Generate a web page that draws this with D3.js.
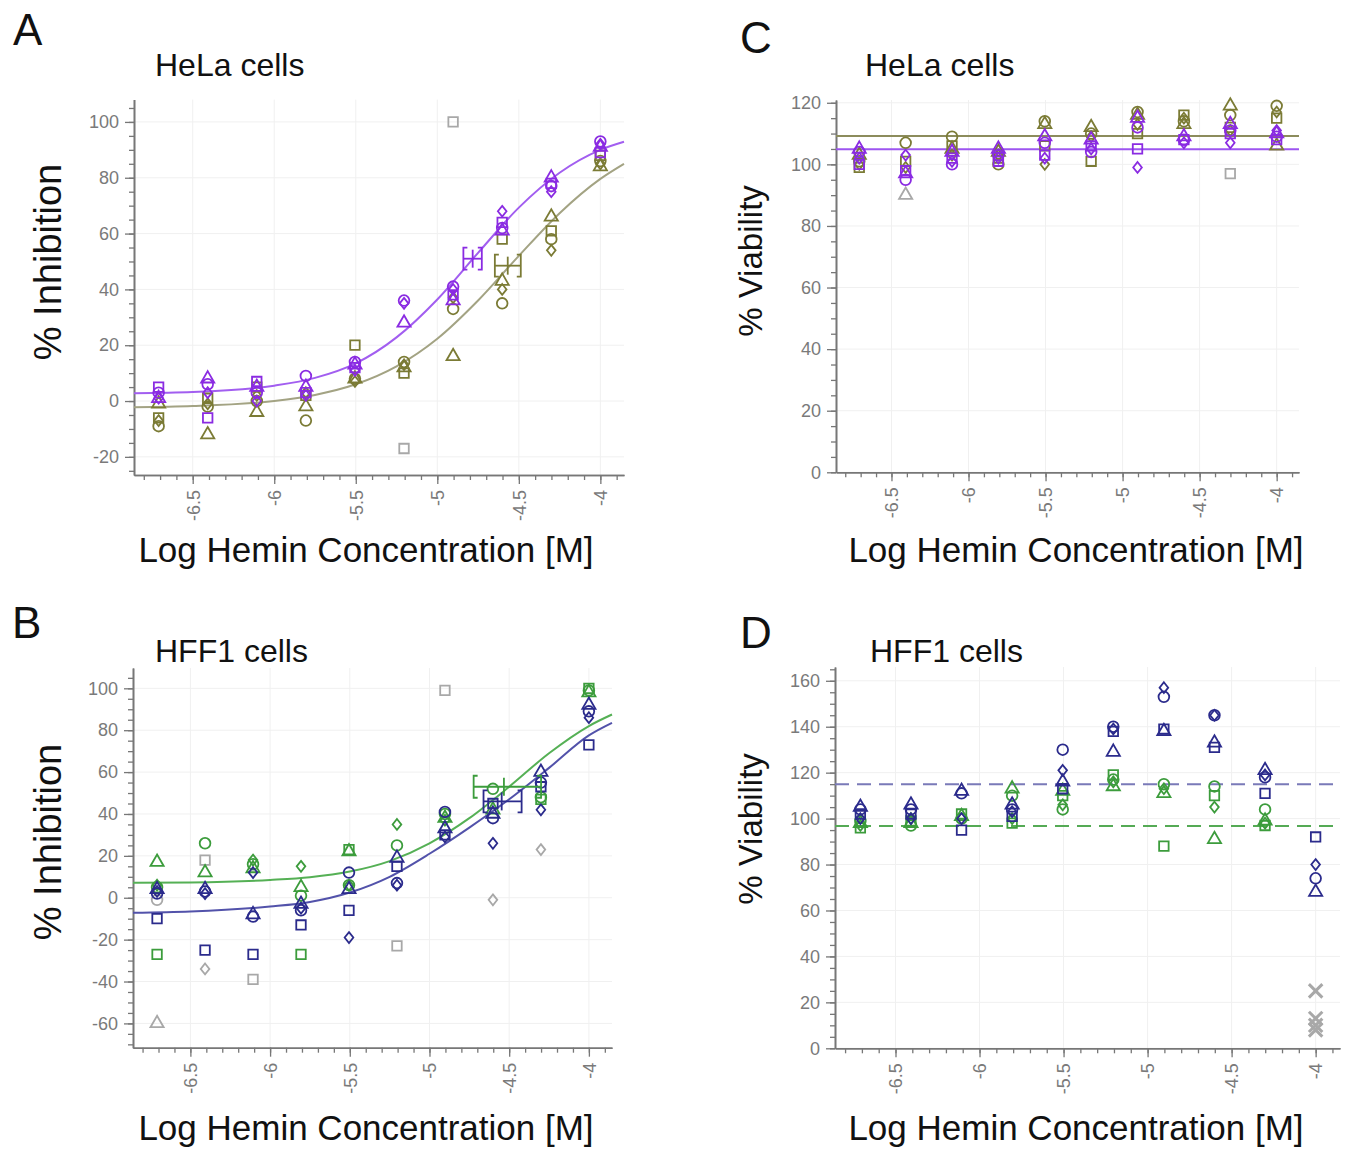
<!DOCTYPE html>
<html>
<head>
<meta charset="utf-8">
<script src="https://cdn.jsdelivr.net/npm/d3@7"></script>
<style>
	body { margin: 0; background: #fff; }
	text { font-family: "Liberation Sans", Arial, sans-serif; }
</style>
</head>
<body>
<svg id="svg" width="1350" height="1151"></svg>
<script>
// dilution series, log10 M (2-fold from 100 uM)
const logConc = [-6.709, -6.408, -6.107, -5.806, -5.505, -5.204, -4.903, -4.602, -4.301, -4.0];
const xTicks = [-6.5, -6, -5.5, -5, -4.5, -4];
const xTickLabels = ['-6.5', '-6', '-5.5', '-5', '-4.5', '-4'];
const shapes = ['circle', 'square', 'triangle', 'diamond'];

// each row = one concentration, columns = replicate markers (circle, square, triangle, diamond)
const helaInhPurple = [[3, 5, 1, 1], [6, -6, 8, 3], [3, 7, 5, 0], [9, 3, 5, 2], [14, 12, 13, 11],
	[36, null, 28, 35], [41, 38, 36, 40], [62, 64, 61, 68], [77, 78, 80, 75], [93, 89, 91, 92]];
const helaInhOlive = [[-9, -6, -1, -7], [-2, 1, -12, -1], [0, 5, -4, 2], [-7, 2, -2, 3], [8, 20, 8, 7],
	[14, 10, 12, 13], [33, null, 16, 37], [35, 58, 43, 40], [58, 61, 66, 54], [86, 88, 84, 85]];
// excluded points: [concentration index, value, shape]
const helaInhGray = [[5, -17, 'square'], [6, 100, 'square']];

const hffInhGreen = [[5, -27, 17, 6], [26, null, 12, null], [16, null, 14, 18], [1, -27, 5, 15], [6, 23, 22, 6],
	[25, null, null, 35], [40, null, 38, 37], [52, null, 42, null], [48, 47, null, null], [99, 100, 98, null]];
const hffInhNavy = [[2, -10, 4, 3], [3, -25, 4, 2], [-9, -27, -8, 12], [-6, -13, -3, -5], [12, -6, 4, -19],
	[7, 15, 19, 6], [41, 30, 33, 29], [38, 45, 40, 26], [55, 53, 60, 42], [89, 73, 92, 86]];
const hffInhGray = [[0, -1, 'circle'], [0, -60, 'triangle'], [1, 18, 'square'], [1, -34, 'diamond'],
	[2, -39, 'square'], [5, -23, 'square'], [6, 99, 'square'], [7, -1, 'diamond'], [8, 23, 'diamond']];

const helaViaPurple = [[104, 100, 105, 102], [95, 98, 97, 103], [100, 102, 104, 101], [103, 101, 105, 102],
	[107, 103, 109, 102], [104, 106, 108, 105], [112, 105, 115, 99], [108, 108, 109, 107], [111, 110, 113, 107],
	[109, 108, 110, 111]];
const helaViaOlive = [[101, 99, 103, 100], [107, 101, null, 99], [109, 106, 105, 103], [100, 102, 104, 103],
	[114, 106, 113, 100], [110, 101, 112, 109], [117, 110, 116, 113], [114, 116, 113, 115], [116, 112, 119, 111],
	[119, 115, 106, 117]];
const helaViaGray = [[1, 90, 'triangle'], [8, 97, 'square']];

const hffViaNavy = [[104, 102, 105, 100], [104, 102, 106, 100], [111, 95, 112, 100], [104, 101, 106, 103],
	[130, 113, 116, 121], [140, 138, 129, 139], [153, 139, 138, 157], [145, 131, 133, 145], [118, 111, 121, 119],
	[74, 92, 68, 80]];
const hffViaGreen = [[99, 96, 98, 97], [97, 99, 98, 100], [100, 102, 101, null], [110, 98, 113, 100],
	[104, 110, 112, 106], [117, 119, 114, 116], [115, 88, 111, 113], [114, 110, 91, 105], [104, 97, 99, 98],
	[null, null, null, null]];
const hffViaGray = [[9, 25, 'x'], [9, 13, 'x'], [9, 10, 'x'], [9, 8, 'x']];

// fitted dose-response curves
const curveX = [-6.86, -6.5, -6, -5.75, -5.5, -5.25, -5, -4.75, -4.5, -4.25, -4, -3.855];
const helaCurvePurple = [2.8, 3.2, 5.5, 8.3, 13.5, 22.8, 36.4, 53.1, 69.3, 81.8, 90, 92.9];
const helaCurveOlive = [-2.2, -1.8, 0, 2.2, 6, 12.4, 22.3, 36, 52, 67.3, 79.6, 85];
const hffCurveGreen = [7.1, 7.3, 8.5, 9.8, 12.5, 17.5, 26, 38, 53, 69, 82, 87.5];
const hffCurveNavy = [-7.2, -6.6, -4.2, -2, 2.5, 10, 21, 33.5, 47, 62, 77.5, 83.5];

// IC50 with confidence interval: [value, logIC50, low, high]
const helaIC50 = [[51, -4.783, -4.840, -4.727], [48.5, -4.568, -4.647, -4.488]];
const hffIC50 = [[53, -4.533, -4.723, -4.300], [46, -4.547, -4.661, -4.422]];

// mean viability lines
const helaViaMean = [109.2, 104.9];
const hffViaMean = [115, 96.8];

const svg = d3.select('#svg');
const xDomain = [-6.86, -3.855];
const minorX = d3.range(-68, -38).map((d) => d / 10);

const purple = '#8a2be2', purpleLine = '#a25ef0';
const olive = '#7b7b35', oliveLine = '#a3a383';
const green = '#3c9c3c', greenLine = '#55b055';
const navy = '#2b2b8c', navyLine = '#5252aa';
const gray = '#a8a8a8';

// squatter diamond than d3's default
const wideDiamond = {
	draw(context, size) {
		const h = Math.sqrt(size / 0.8) / 2 * 1.25;
		const w = h * 0.8;
		context.moveTo(0, -h);
		context.lineTo(w, 0);
		context.lineTo(0, h);
		context.lineTo(-w, 0);
		context.closePath();
	}
};

const symbolType = {
	circle: d3.symbolCircle,
	square: d3.symbolSquare,
	triangle: d3.symbolTriangle,
	diamond: wideDiamond,
	x: d3.symbolTimes
};
const symbolSize = { circle: 90, square: 90, triangle: 75, diamond: 60, x: 120 };

function drawPanel(p) {
	const x = d3.scaleLinear().domain(xDomain).range(p.xr);
	const y = d3.scaleLinear().domain(p.yd).range(p.yr);
	const g = svg.append('g');

	// faint grid
	g.selectAll('.vg').data(xTicks).enter().append('line')
		.attr('x1', (d) => x(d)).attr('x2', (d) => x(d))
		.attr('y1', p.yr[0]).attr('y2', p.yr[1])
		.attr('stroke', '#f0f0f0');
	g.selectAll('.hg').data(p.yTicks).enter().append('line')
		.attr('x1', p.xr[0]).attr('x2', p.xr[1])
		.attr('y1', (d) => y(d)).attr('y2', (d) => y(d))
		.attr('stroke', '#f0f0f0');

	// axes
	const yMinor = d3.range(Math.ceil(p.yd[0] / 5) * 5, p.yd[1], 5);
	g.append('g').attr('transform', `translate(0, ${p.yr[0]})`)
		.call(d3.axisBottom(x).tickValues(minorX).tickSize(5).tickSizeOuter(0).tickFormat(''));
	const xa = g.append('g').attr('transform', `translate(0, ${p.yr[0]})`)
		.call(d3.axisBottom(x).tickValues(xTicks).tickSize(9).tickSizeOuter(0)
			.tickFormat((d, i) => xTickLabels[i]));
	xa.selectAll('text')
		.attr('transform', 'rotate(-90)')
		.attr('text-anchor', 'end')
		.attr('x', -15).attr('y', 0).attr('dy', '0.35em');
	g.append('g').attr('transform', `translate(${p.xr[0]}, 0)`)
		.call(d3.axisLeft(y).tickValues(yMinor).tickSize(5).tickSizeOuter(0).tickFormat(''));
	g.append('g').attr('transform', `translate(${p.xr[0]}, 0)`)
		.call(d3.axisLeft(y).tickValues(p.yTicks).tickSize(9).tickSizeOuter(0).tickPadding(6)
			.tickFormat((d) => String(d)));
	g.selectAll('.domain').attr('stroke', '#777').attr('stroke-width', 1.6);
	g.selectAll('.tick line').attr('stroke', '#777').attr('stroke-width', 1.3);
	g.selectAll('.tick text').attr('fill', '#7a7a7a').style('font-size', '18px')
		.style('font-family', '"Liberation Sans", Arial, sans-serif');

	// mean lines (viability panels)
	(p.means || []).forEach((m) => {
		g.append('line')
			.attr('x1', p.xr[0]).attr('x2', p.xr[1])
			.attr('y1', y(m.v)).attr('y2', y(m.v))
			.attr('stroke', m.color).attr('stroke-width', 2)
			.attr('stroke-dasharray', m.dash || null);
	});

	// fitted curves
	const line = d3.line().x((d) => x(d[0])).y((d) => y(d[1])).curve(d3.curveMonotoneX);
	(p.curves || []).forEach((c) => {
		g.append('path')
			.datum(curveX.map((v, i) => [v, c.values[i]]))
			.attr('d', line)
			.attr('fill', 'none')
			.attr('stroke', c.color).attr('stroke-width', 2);
	});

	// points
	const pts = [];
	(p.gray || []).forEach((d) => pts.push({ cx: logConc[d[0]], v: d[1], shape: d[2], color: gray }));
	p.series.forEach((s) => {
		s.rows.forEach((row, i) => {
			row.forEach((v, j) => {
				if (v !== null) pts.push({ cx: logConc[i], v: v, shape: shapes[j], color: s.color });
			});
		});
	});
	g.selectAll('.pt').data(pts).enter().append('path')
		.attr('class', 'pt')
		.attr('transform', (d) => `translate(${x(d.cx)}, ${y(d.v)})`)
		.attr('d', (d) => d3.symbol().type(symbolType[d.shape]).size(symbolSize[d.shape])())
		.attr('fill', 'none')
		.attr('stroke', (d) => d.color)
		.attr('stroke-width', (d) => (d.shape === 'x' ? 3 : 1.8));

	// IC50 bars
	(p.ic50 || []).forEach((e) => {
		const yy = y(e.d[0]);
		const eb = g.append('g').attr('stroke', e.color).attr('stroke-width', 1.8).attr('fill', 'none');
		eb.append('line').attr('x1', x(e.d[2])).attr('x2', x(e.d[3])).attr('y1', yy).attr('y2', yy);
		eb.append('line').attr('x1', x(e.d[1])).attr('x2', x(e.d[1])).attr('y1', yy - 9).attr('y2', yy + 9);
		eb.append('path').attr('d', `M${x(e.d[2]) + 4},${yy - 11}H${x(e.d[2])}V${yy + 11}H${x(e.d[2]) + 4}`);
		eb.append('path').attr('d', `M${x(e.d[3]) - 4},${yy - 11}H${x(e.d[3])}V${yy + 11}H${x(e.d[3]) - 4}`);
	});

	// texts
	svg.append('text').attr('x', p.letter[0]).attr('y', p.letter[1])
		.style('font-size', '44px').attr('fill', '#111').text(p.letter[2]);
	svg.append('text').attr('x', p.title[0]).attr('y', p.title[1])
		.style('font-size', '32px').attr('fill', '#111').text(p.title[2]);
	svg.append('text').attr('x', p.xTitle[0]).attr('y', p.xTitle[1])
		.attr('text-anchor', 'middle')
		.style('font-size', '35px').attr('fill', '#111').text('Log Hemin Concentration [M]');
	svg.append('text')
		.attr('transform', `translate(${p.yTitle[0]}, ${p.yTitle[1]}) rotate(-90)`)
		.attr('text-anchor', 'middle')
		.style('font-size', p.yTitle[3]).attr('fill', '#111').text(p.yTitle[2]);
}

drawPanel({
	xr: [134, 624], yd: [-26.5, 108], yr: [475, 99.6], yTicks: d3.range(-20, 101, 20),
	curves: [{ values: helaCurveOlive, color: oliveLine }, { values: helaCurvePurple, color: purpleLine }],
	gray: helaInhGray,
	series: [{ rows: helaInhOlive, color: olive }, { rows: helaInhPurple, color: purple }],
	ic50: [{ d: helaIC50[0], color: purple }, { d: helaIC50[1], color: olive }],
	letter: [13, 45, 'A'], title: [155, 76, 'HeLa cells'],
	xTitle: [366, 562], yTitle: [61, 262, '% Inhibition', '38px']
});

drawPanel({
	xr: [133, 612], yd: [-71.6, 109.7], yr: [1047.7, 668], yTicks: d3.range(-60, 101, 20),
	curves: [{ values: hffCurveGreen, color: greenLine }, { values: hffCurveNavy, color: navyLine }],
	gray: hffInhGray,
	series: [{ rows: hffInhGreen, color: green }, { rows: hffInhNavy, color: navy }],
	ic50: [{ d: hffIC50[0], color: green }, { d: hffIC50[1], color: navy }],
	letter: [12, 638, 'B'], title: [155, 662, 'HFF1 cells'],
	xTitle: [366, 1140], yTitle: [61, 842, '% Inhibition', '38px']
});

drawPanel({
	xr: [836, 1299], yd: [0, 120.9], yr: [472.3, 100], yTicks: d3.range(0, 121, 20),
	means: [{ v: helaViaMean[0], color: '#8c8c5c' }, { v: helaViaMean[1], color: '#9d55f0' }],
	gray: helaViaGray,
	series: [{ rows: helaViaOlive, color: olive }, { rows: helaViaPurple, color: purple }],
	letter: [740, 53, 'C'], title: [865, 76, 'HeLa cells'],
	xTitle: [1076, 562], yTitle: [762, 261, '% Viability', '33px']
});

drawPanel({
	xr: [835, 1340], yd: [0, 166], yr: [1048.3, 667], yTicks: d3.range(0, 161, 20),
	means: [{ v: hffViaMean[0], color: '#7a7ab8', dash: '14,8' }, { v: hffViaMean[1], color: '#55aa55', dash: '14,8' }],
	gray: hffViaGray,
	series: [{ rows: hffViaGreen, color: green }, { rows: hffViaNavy, color: navy }],
	letter: [740, 648, 'D'], title: [870, 662, 'HFF1 cells'],
	xTitle: [1076, 1140], yTitle: [762, 829, '% Viability', '33px']
});
</script>
</body>
</html>
